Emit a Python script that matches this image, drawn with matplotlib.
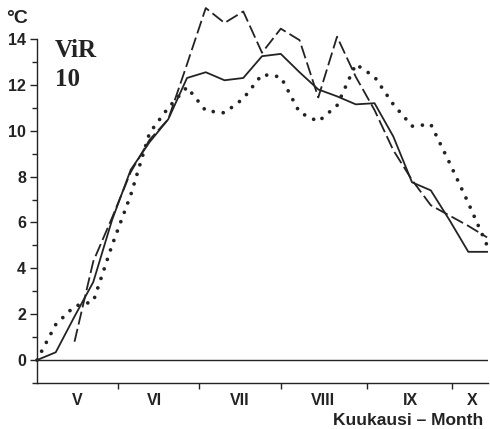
import matplotlib
matplotlib.use('Agg')
import matplotlib.pyplot as plt
import numpy as np

plt.rcParams['font.family'] = ['Liberation Sans', 'DejaVu Sans']
plt.rcParams['lines.scale_dashes'] = False

# weekly means, x = week index from start of May
weeks = np.arange(25)
solid = [0.0, 0.34, 1.9, 3.4, 6.1, 8.3, 9.5, 10.5, 12.3, 12.55, 12.2, 12.3, 13.25,
         13.35, 12.55, 11.8, 11.5, 11.15, 11.2, 9.75, 7.75, 7.4, 6.1, 4.72, 4.72]
dashed_weeks = np.arange(2, 25)
dashed = [0.8, 4.3, 6.2, 8.2, 9.6, 10.5, 12.9, 15.35, 14.7, 15.2, 13.4, 14.45,
          13.95, 11.45, 14.1, 12.35, 10.9, 9.15, 7.85, 6.75, 6.3, 5.85, 5.35]
dotted = [0.0, 1.55, 2.35, 2.55, 5.0, 7.2, 9.9, 11.0, 11.9, 10.87, 10.78, 11.4, 12.45,
          12.35, 10.8, 10.4, 11.1, 12.9, 12.35, 11.15, 10.2, 10.28, 8.6, 6.85, 5.0]

month_bounds = [4.32, 8.64, 13.01, 17.6, 22.13]
month_pos = [2.13, 6.25, 10.8, 15.25, 19.93, 23.2]
month_labels = ['V', 'VI', 'VII', 'VIII', 'IX', 'X']

col = '#232323'
fig = plt.figure(figsize=(4.9, 4.29), dpi=100)
ax = fig.add_axes([0.0755, 0.1072, 0.9204, 0.8928])

ax.plot(weeks, solid, color=col, lw=1.3, clip_on=False)
ax.plot(dashed_weeks, dashed, color=col, lw=1.3, dashes=[9.5, 3.2], clip_on=False)
ax.plot(weeks, dotted, color=col, lw=2.7, dashes=[0.01, 7.2],
        dash_capstyle='round', clip_on=False)
ax.axhline(0, color=col, lw=1.0)

ax.set_xlim(0, 24.05)
ax.set_ylim(-1, 15.7)
ax.spines['top'].set_visible(False)
ax.spines['right'].set_visible(False)
ax.spines['left'].set_bounds(-1, 14)
for s in ['left', 'bottom']:
    ax.spines[s].set_color(col)
    ax.spines[s].set_linewidth(1.0)

ax.set_yticks(np.arange(0, 15, 2))
ax.set_yticks(np.arange(-1, 14, 2), minor=True)
ax.tick_params(axis='y', which='major', length=5, width=1, color=col,
               labelsize=11.5, pad=3, labelcolor=col)
ax.tick_params(axis='y', which='minor', length=3.5, width=1, color=col)
for lab in ax.get_yticklabels():
    lab.set_fontweight('bold')

ax.set_xticks(month_bounds)
ax.set_xticklabels([])
ax.set_xticks(month_pos, minor=True)
ax.set_xticklabels(month_labels, minor=True, fontweight='bold')
ax.tick_params(axis='x', which='major', length=4, width=1, color=col, direction='out')
ax.tick_params(axis='x', which='minor', length=0, labelsize=11.5, pad=7, labelcolor=col)

fig.text(0.012, 0.946, '°C', fontsize=14, color=col, fontweight='bold', va='baseline')
ax.text(0.04, 0.85, 'ViR', transform=ax.transAxes, fontsize=18, fontweight='bold',
        family='Liberation Serif', color=col)
ax.text(0.04, 0.775, '10', transform=ax.transAxes, fontsize=18, fontweight='bold',
        family='Liberation Serif', color=col)
fig.text(0.986, 0.01, 'Kuukausi – Month', fontsize=12.5, ha='right', color=col,
         fontweight='bold')

fig.savefig('out.png', dpi=100)
